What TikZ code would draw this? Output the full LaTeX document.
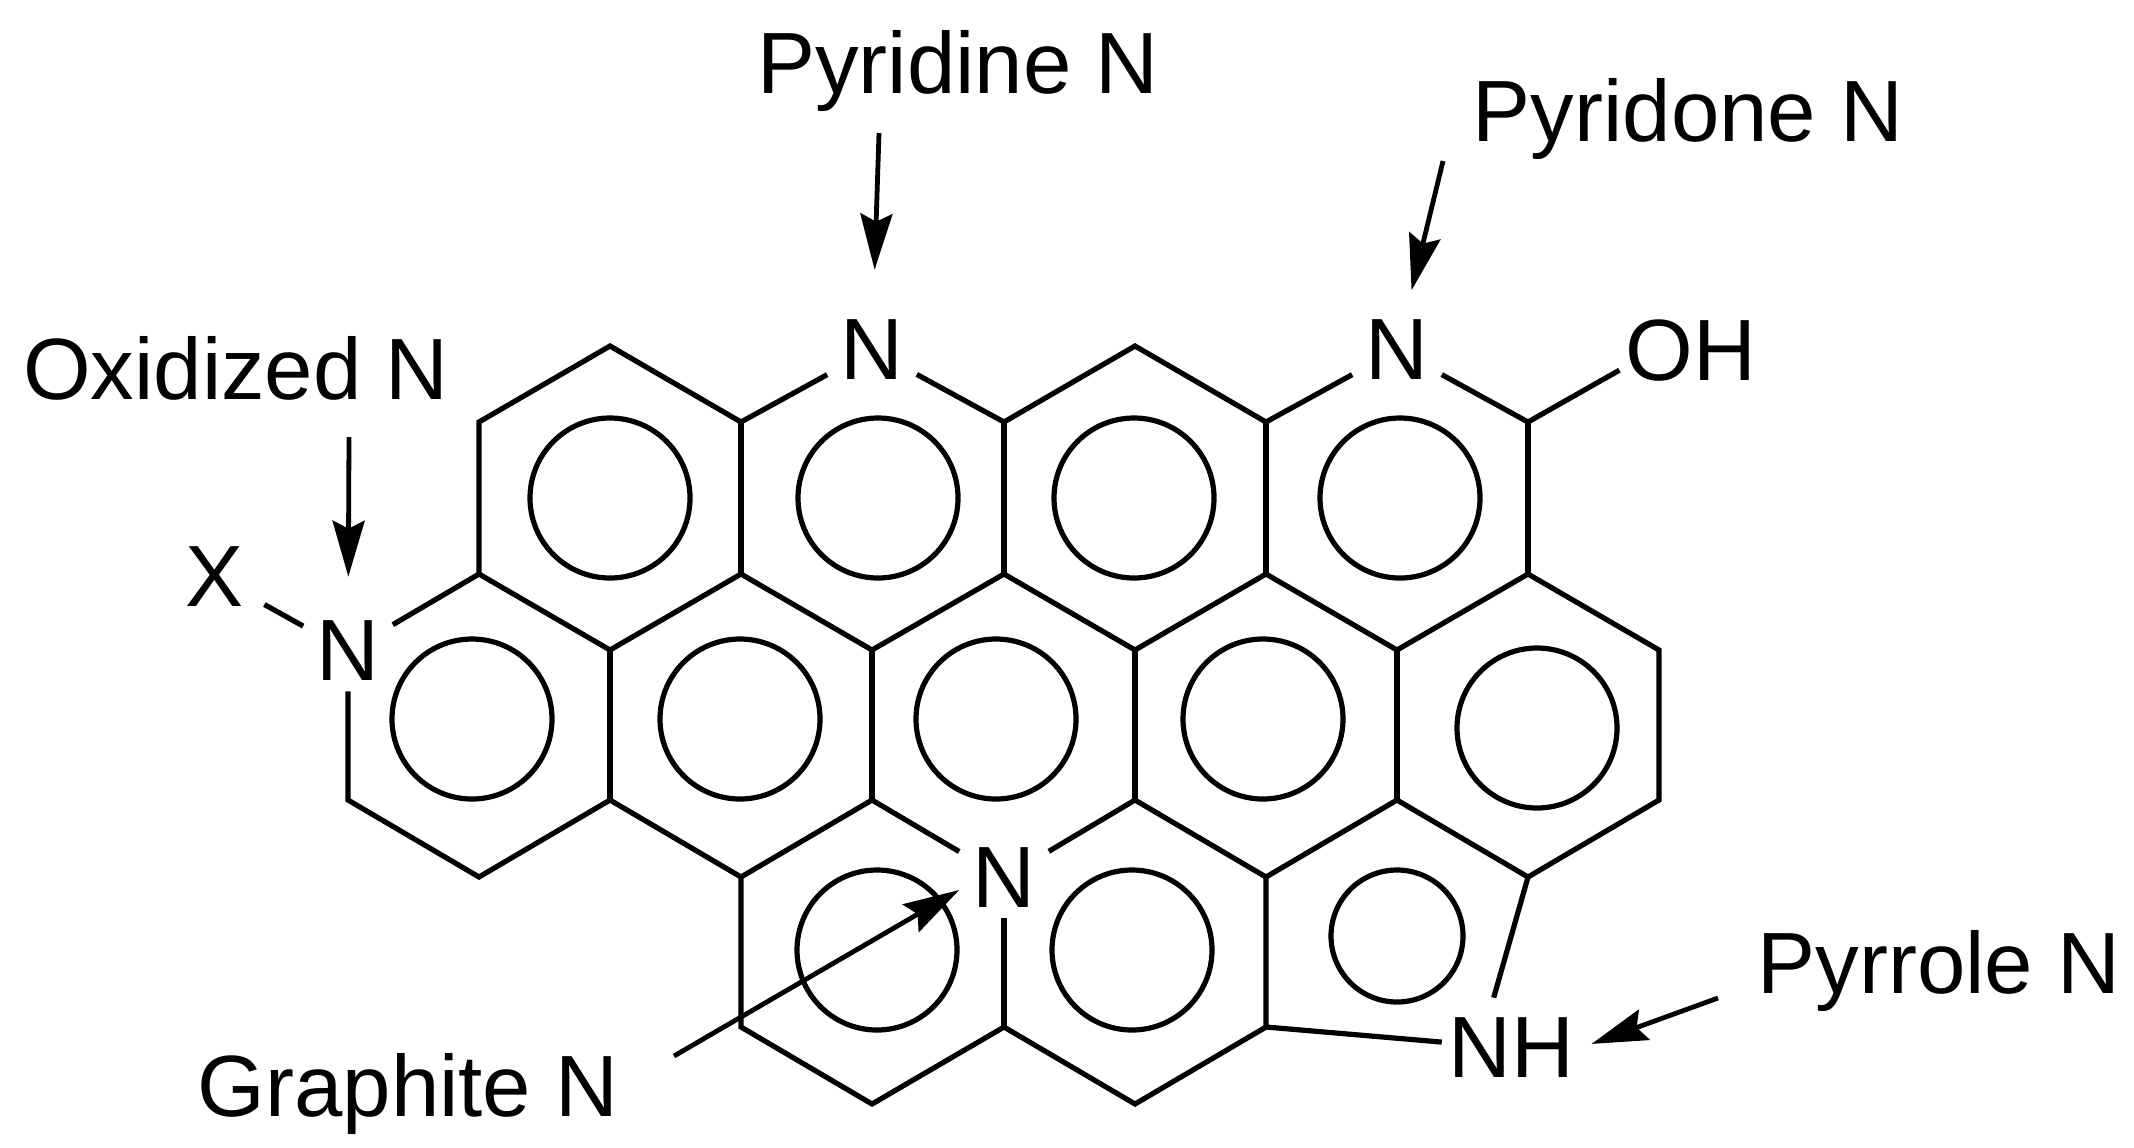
\documentclass[tikz,border=0pt]{standalone}
\usepackage{fontspec}
\setmainfont{Liberation Sans}
\usetikzlibrary{arrows.meta}
\tikzstyle{atom} = [inner xsep=6.5pt, inner ysep=5pt, text=black, font=\fontsize{43.5}{50}\selectfont]
\tikzstyle{tag} = [inner sep=0pt, text=black, font=\fontsize{43.5}{50}\selectfont]
\tikzstyle{bond} = [line width=2.6pt]
\tikzstyle{ring} = [line width=2.6pt]
\tikzstyle{arrow} = [line width=2.4pt, -{Stealth[length=28pt, width=16pt, inset=4pt]}]

\begin{document}
\begin{tikzpicture}[x=0.5pt, y=-0.5pt]
        \useasboundingbox (0,0) rectangle (2134,1147);

        % lattice points: row letter, column number
        \foreach \row/\y in {A/346, B/422, C/574, D/650, E/800, F/877, G/1027, H/1104}
            \foreach \col/\x in {0/348, 1/479, 2/610, 3/741, 4/872, 5/1004, 6/1135, 7/1266, 8/1397, 9/1528, 10/1659}
                \coordinate (\row\col) at (\x,\y);

        \node[atom]                                    (atom pyridine)  at (872,350)   {N};
        \node[atom]                                    (atom pyridone)  at (1397,350)  {N};
        \node[atom]                                    (atom oxidized)  at (348,651)   {N};
        \node[atom]                                    (atom graphite)  at (1004,878)  {N};
        \node[atom, inner xsep=3pt, inner ysep=10pt]   (atom pyrrole)   at (1511,1048) {NH};
        \node[atom, inner xsep=3pt]                    (hydroxyl)       at (1691,351)  {OH};
        \node[atom, inner xsep=10pt]                   (xgroup)         at (215,577)   {X};

        \node[tag] (tag pyridine) at (958,71)   {Pyridine N};
        \node[tag] (tag pyridone) at (1688,119) {Pyridone N};
        \node[tag] (tag oxidized) at (236,368)  {Oxidized N};
        \node[tag] (tag graphite) at (408,1094) {Graphite N};
        \node[tag] (tag pyrrole)  at (1939,971) {Pyrrole N};

        \coordinate (tail pyridine) at (879,133);
        \coordinate (tail pyridone) at (1443,161);
        \coordinate (tail oxidized) at (349,437);
        \coordinate (tail graphite) at (674,1056);
        \coordinate (tail pyrrole)  at (1718,998);

        % outer edge and zigzags
        \draw[bond] (C1) -- (B1) -- (A2) -- (B3) -- (atom pyridine) -- (B5) -- (A6) -- (B7) -- (atom pyridone) -- (B9);
        \draw[bond] (B9) -- (hydroxyl.195);
        \draw[bond] (atom oxidized) -- (C1) -- (D2) -- (C3) -- (D4) -- (C5) -- (D6) -- (C7) -- (D8) -- (C9) -- (D10) -- (E10) -- (F9);
        \draw[bond] (atom oxidized) -- (E0) -- (F1) -- (E2) -- (F3) -- (E4) -- (atom graphite) -- (E6) -- (F7) -- (E8) -- (F9);
        \draw[bond] (xgroup) -- (atom oxidized);

        % vertical bonds
        \draw[bond] (B3) -- (C3);
        \draw[bond] (B5) -- (C5);
        \draw[bond] (B7) -- (C7);
        \draw[bond] (B9) -- (C9);
        \draw[bond] (D2) -- (E2);
        \draw[bond] (D4) -- (E4);
        \draw[bond] (D6) -- (E6);
        \draw[bond] (D8) -- (E8);

        % bottom row
        \draw[bond] (F3) -- (G3) -- (H4) -- (G5) -- (H6) -- (G7) -- (F7);
        \draw[bond] (atom graphite) -- (G5);
        \draw[bond] (G7) -- (atom pyrrole);
        \draw[bond] (F9) -- (atom pyrrole.109);

        % aromatic circles
        \foreach \x/\y in {610/498, 878/498, 1134/498, 1400/498, 472/719, 740/719, 996/719, 1263/719, 1537/728, 877/950, 1132/950}
            \draw[ring] (\x,\y) circle[radius=40pt];
        \draw[ring] (1397,936) circle[radius=33pt];

        \draw[arrow, shorten >=20pt] (tail pyridine) -- (atom pyridine);
        \draw[arrow, shorten >=10pt] (tail pyridone) -- (atom pyridone);
        \draw[arrow, shorten >=17pt] (tail oxidized) -- (atom oxidized);
        \draw[arrow]                 (tail graphite) -- (atom graphite.195);
        \draw[arrow, shorten >=6pt]  (tail pyrrole)  -- (atom pyrrole.east);
    \end{tikzpicture}
\end{document}
